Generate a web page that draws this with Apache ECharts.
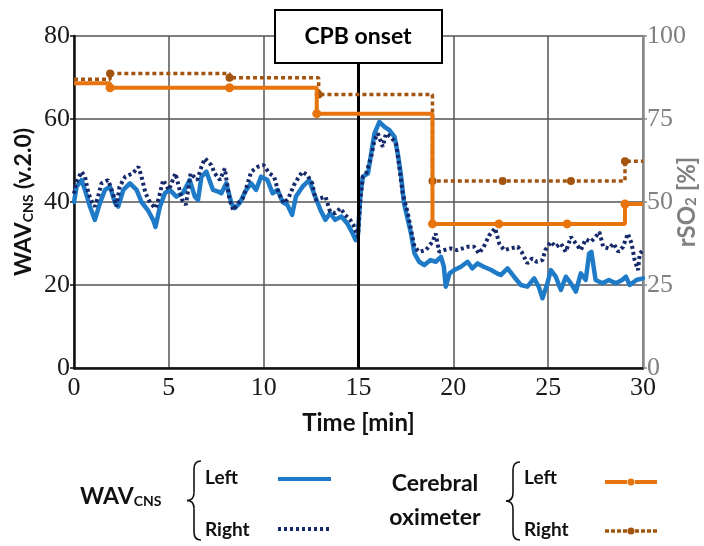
<!DOCTYPE html>
<html>
<head>
<meta charset="utf-8">
<script src="https://cdn.jsdelivr.net/npm/echarts@6/dist/echarts.min.js"></script>
<style>html,body{margin:0;padding:0;background:#fff}#c{width:704px;height:546px}</style>
</head>
<body>
<div id="c"></div>
<script>
// ---- Data ----
const xTicks = [0, 5, 10, 15, 20, 25, 30];
const leftTicks = [0, 20, 40, 60, 80];
const rightTicks = [0, 25, 50, 75, 100];
const cpbOnset = 15;

const wavLeftT = [0,0.14,0.4,0.58,0.84,1.1,1.37,1.63,1.9,2.16,2.33,2.6,2.95,3.3,3.56,3.9,4.17,4.3,4.53,4.8,5.05,5.4,5.75,6.1,6.37,6.54,6.72,6.98,7.33,7.6,7.77,8.03,8.3,8.47,8.73,9.08,9.34,9.6,9.86,10.2,10.47,10.73,11.0,11.25,11.5,11.7,12.05,12.4,12.65,13.0,13.26,13.5,13.77,14.1,14.4,14.65,14.85,14.97,15.1,15.23,15.5,15.67,15.84,16.1,16.37,16.63,16.9,17.07,17.25,17.4,17.6,17.77,17.95,18.2,18.47,18.8,19.07,19.35,19.5,19.6,19.8,20.05,20.4,20.75,21.0,21.28,21.6,22.0,22.3,22.5,22.86,23.2,23.56,23.9,24.26,24.5,24.7,24.96,25.14,25.4,25.67,25.93,26.2,26.46,26.72,26.98,27.16,27.28,27.5,27.86,28.2,28.56,28.9,29.1,29.3,29.65,30];
const wavLeft = [40,43.7,45.3,42.9,38.9,35.7,39.8,42.9,43.7,39.8,38.9,42.9,44.5,42.9,40,38,35.7,34,38.9,42.2,42.9,41.3,42.2,45.3,41.3,40.5,46.1,47.3,42.9,42.5,42.1,44.5,39.7,38.5,39.7,42.9,44.5,42.9,46.1,45.3,42.1,42.9,40,39.3,36.9,41.3,43.7,45.3,42.1,38,35.7,37.3,35.7,36.5,34.9,32.8,30.8,32,41.8,46.1,46.9,51.7,56.5,59.3,58.1,57.3,55.7,51.7,46.1,39.7,35.7,32.4,27.6,25.6,24.8,26,25.6,26.8,24.4,19.6,22.8,23.6,24.4,25.6,24,25.2,24.4,23.6,22.8,22.4,24,22,20,19.6,21.6,19.6,16.8,20.4,23.6,22,18.8,22,20.4,18.4,22.8,21.2,27.6,28,21.2,20.4,21.2,20.4,21.2,22,20,21.2,21.6];

const wavRightT = [0,0.1,0.4,0.58,0.76,0.95,1.1,1.27,1.45,1.8,2.05,2.24,2.4,2.7,3.1,3.4,3.56,3.77,4.03,4.3,4.47,4.7,5.0,5.35,5.7,5.9,6.15,6.5,6.72,6.9,7.24,7.42,7.7,7.95,8.2,8.4,8.65,8.9,9.16,9.34,9.7,10.0,10.3,10.55,10.8,11.07,11.3,11.6,11.86,12.05,12.3,12.56,12.74,13.0,13.26,13.5,13.77,14.04,14.3,14.56,14.73,14.97,15.1,15.23,15.4,15.67,15.84,16.02,16.28,16.45,16.7,16.98,17.15,17.33,17.6,17.77,17.95,18.2,18.55,18.9,19.07,19.25,19.5,19.86,20.2,20.75,21.1,21.35,21.6,21.9,22.2,22.42,22.68,23.0,23.4,23.6,23.9,24.15,24.4,24.7,24.85,25.14,25.4,25.67,25.93,26.2,26.46,26.72,26.98,27.25,27.5,27.7,27.9,28.2,28.45,28.7,28.95,29.2,29.4,29.56,29.74,29.83,30];
const wavRight = [42,44.5,47.3,46.1,42.1,40,38.9,41.3,44.5,45.3,42.1,38.9,43.7,46.1,46.9,48.5,46.1,42.1,39.7,38.5,40.9,45.3,42.9,46.9,40.5,39.3,46.9,45.3,48.5,50.5,48.9,46.9,45.3,48.1,40.5,38,39.7,40.9,44.5,47.3,48.5,48.9,46.9,46.1,42.1,39.7,40.9,44.1,46.1,47.3,46.5,44.5,40.5,40.9,41.3,37.7,37.3,38.5,36.9,35.7,34.5,31.6,40.5,46.1,46.9,50.9,54.9,56.5,53.3,56.5,55.7,54.1,48.5,42.1,37.3,33.3,29.2,28,28.4,30.4,32.4,28,28.4,28.8,28.4,29.2,29.2,27.6,29.2,32,33.7,30,28.4,28.8,29.2,28,25.2,26.4,25.6,26,28.4,30.4,29.2,30,28,31.6,30,28.4,31,30.4,31.6,32.8,29.2,28.8,30,28,29.2,32.4,30,26,23.6,27.6,28.4];

const oxLeftT = [0, 1.9, 8.2, 12.8, 18.9, 22.4, 26.0, 29.05, 30];
const oxLeft = [85.8, 84.4, 84.4, 76.6, 43.4, 43.4, 43.4, 49.4, 49.4];
const oxRightT = [0, 1.9, 8.2, 12.9, 18.9, 22.6, 26.2, 29.05, 30];
const oxRight = [87.0, 88.7, 87.4, 82.4, 56.3, 56.3, 56.3, 62.3, 62.3];

// ---- Build ----
const pairs = (t, v) => t.map((x, i) => [x, v[i]]);
const stepPts = (t, v, size) => t.map((x, i) => ({
  value: [x, v[i]],
  symbolSize: (i === 0 || i === t.length - 1) ? 0 : size
}));

const C_BLUE = '#1f7bc8', C_NAVY = '#15296a', C_ORANGE = '#e8740e', C_BROWN = '#a3540f';
const SERIF = 'Liberation Serif';
const SANS = 'Lato';

const chart = echarts.init(document.getElementById('c'), null, {renderer: 'canvas'});

function brace(x, top, bottom) {
  const mid = (top + bottom) / 2, xm = x - 7, xt = x - 14;
  const st = {fill: 'none', stroke: '#111', lineWidth: 1.6};
  return [
    {type: 'bezierCurve', shape: {x1: x, y1: top, x2: xm, y2: top + 8, cpx1: xm, cpy1: top}, style: st},
    {type: 'line', shape: {x1: xm, y1: top + 8, x2: xm, y2: mid - 8}, style: st},
    {type: 'bezierCurve', shape: {x1: xm, y1: mid - 8, x2: xt, y2: mid, cpx1: xm, cpy1: mid}, style: st},
    {type: 'bezierCurve', shape: {x1: xt, y1: mid, x2: xm, y2: mid + 8, cpx1: xm, cpy1: mid}, style: st},
    {type: 'line', shape: {x1: xm, y1: mid + 8, x2: xm, y2: bottom - 8}, style: st},
    {type: 'bezierCurve', shape: {x1: xm, y1: bottom - 8, x2: x, y2: bottom, cpx1: xm, cpy1: bottom}, style: st}
  ];
}
const txt = (x, y, text, size, align) => ({type: 'text', x, y,
  style: {text, fontFamily: SANS, fontWeight: 'bold', fontSize: size, fill: '#111', align: align || 'left', verticalAlign: 'middle'}});

const option = {
  animation: false,
  backgroundColor: '#fff',
  grid: {left: 74, right: 61, top: 36, bottom: 178, containLabel: false, outerBoundsMode: 'none'},
  xAxis: {
    type: 'value', min: 0, max: 30, interval: 5,
    name: 'Time [min]', nameLocation: 'middle', nameGap: 43,
    nameTextStyle: {fontFamily: SANS, fontWeight: 'bold', fontSize: 24, color: '#111'},
    axisLine: {lineStyle: {color: '#111', width: 2.5}},
    axisTick: {show: false},
    axisLabel: {fontFamily: SERIF, fontSize: 26, color: '#1a1a1a', margin: 7},
    splitLine: {show: true, lineStyle: {color: '#555', width: 1.5}}
  },
  yAxis: [{
    type: 'value', min: 0, max: 80, interval: 20, position: 'left',
    name: '{a|WAV}{b|CNS}{a| (v.2.0)}', nameLocation: 'middle', nameGap: 37, nameRotate: 90,
    nameMoveOverlap: false,
    nameTextStyle: {rich: {
      a: {fontFamily: SANS, fontWeight: 'bold', fontSize: 23, color: '#111', lineHeight: 26},
      b: {fontFamily: SANS, fontWeight: 'bold', fontSize: 14, color: '#111', lineHeight: 26, padding: [9, 0, 0, 0]}
    }},
    axisLine: {show: true, lineStyle: {color: '#111', width: 2.5}},
    axisTick: {show: true, length: 4, lineStyle: {color: '#111', width: 1.5}},
    axisLabel: {fontFamily: SERIF, fontSize: 26, color: '#1a1a1a', margin: 4},
    splitLine: {show: true, lineStyle: {color: '#555', width: 1.5}}
  }, {
    type: 'value', min: 0, max: 100, interval: 25, position: 'right',
    name: '{a|rSO}{b|2}{a| [%]}', nameLocation: 'middle', nameGap: 31, nameRotate: 90,
    nameMoveOverlap: false,
    nameTextStyle: {rich: {
      a: {fontFamily: SANS, fontWeight: 'bold', fontSize: 24, color: '#808080', lineHeight: 26},
      b: {fontFamily: SANS, fontWeight: 'bold', fontSize: 15, color: '#808080', lineHeight: 26, padding: [9, 0, 0, 0]}
    }},
    axisLine: {show: true, lineStyle: {color: '#8a8a8a', width: 2.5}},
    axisTick: {show: true, length: 4, lineStyle: {color: '#8a8a8a', width: 1.5}},
    axisLabel: {fontFamily: SERIF, fontSize: 26, color: '#808080', margin: 4},
    splitLine: {show: false}
  }],
  series: [{
    name: 'WAV Left', type: 'line', data: pairs(wavLeftT, wavLeft),
    showSymbol: false, symbol: 'none',
    lineStyle: {color: C_BLUE, width: 4.5, join: 'round', cap: 'round'},
    z: 3,
    markLine: {
      silent: true, symbol: ['none', 'none'], label: {show: false},
      lineStyle: {color: '#000', width: 3, type: 'solid'},
      data: [{xAxis: cpbOnset}]
    }
  }, {
    name: 'WAV Right', type: 'line', data: pairs(wavRightT, wavRight),
    showSymbol: false, symbol: 'none',
    lineStyle: {color: C_NAVY, width: 4, type: [3, 3]},
    z: 4
  }, {
    name: 'Ox Right', type: 'line', yAxisIndex: 1, step: 'end',
    data: stepPts(oxRightT, oxRight, 8),
    symbol: 'circle', showSymbol: true,
    itemStyle: {color: C_BROWN},
    lineStyle: {color: C_BROWN, width: 3.5, type: [4, 3]},
    z: 5
  }, {
    name: 'Ox Left', type: 'line', yAxisIndex: 1, step: 'end',
    data: stepPts(oxLeftT, oxLeft, 9),
    symbol: 'circle', showSymbol: true,
    itemStyle: {color: C_ORANGE},
    lineStyle: {color: C_ORANGE, width: 4},
    z: 6
  }],
  graphic: [
    {type: 'rect', z: 100, shape: {x: 275, y: 10, width: 167, height: 53},
     style: {fill: '#fff', stroke: '#000', lineWidth: 2}},
    {type: 'text', z: 101, x: 358, y: 37,
     style: {text: 'CPB onset', fontFamily: SANS, fontWeight: 'bold', fontSize: 23, fill: '#000', align: 'center', verticalAlign: 'middle'}},
    {type: 'text', x: 80, y: 497, style: {text: '{a|WAV}{b|CNS}', verticalAlign: 'middle',
      rich: {a: {fontFamily: SANS, fontWeight: 'bold', fontSize: 23, fill: '#111'},
             b: {fontFamily: SANS, fontWeight: 'bold', fontSize: 14, fill: '#111', padding: [9, 0, 0, 0]}}}},
    ...brace(201, 461, 540),
    txt(205, 478, 'Left', 19),
    txt(205, 530, 'Right', 19),
    {type: 'line', shape: {x1: 278, y1: 479, x2: 331, y2: 479}, style: {stroke: C_BLUE, lineWidth: 4}},
    {type: 'line', shape: {x1: 278, y1: 529, x2: 331, y2: 529}, style: {stroke: C_NAVY, lineWidth: 4, lineDash: [3, 3]}},
    txt(435, 484, 'Cerebral', 23, 'center'),
    txt(435, 518, 'oximeter', 23, 'center'),
    ...brace(520, 462, 540),
    txt(524, 478, 'Left', 19),
    txt(524, 530, 'Right', 19),
    {type: 'line', shape: {x1: 605, y1: 482, x2: 627, y2: 482}, style: {stroke: C_ORANGE, lineWidth: 4}},
    {type: 'line', shape: {x1: 635, y1: 482, x2: 657, y2: 482}, style: {stroke: C_ORANGE, lineWidth: 4}},
    {type: 'circle', shape: {cx: 631, cy: 482, r: 3.5}, style: {fill: C_ORANGE}},
    {type: 'line', shape: {x1: 605, y1: 531, x2: 657, y2: 531}, style: {stroke: C_BROWN, lineWidth: 3.5, lineDash: [4, 2]}},
    {type: 'circle', shape: {cx: 631, cy: 531, r: 3.5}, style: {fill: C_BROWN}}
  ]
};
chart.setOption(option);
</script>
</body>
</html>
